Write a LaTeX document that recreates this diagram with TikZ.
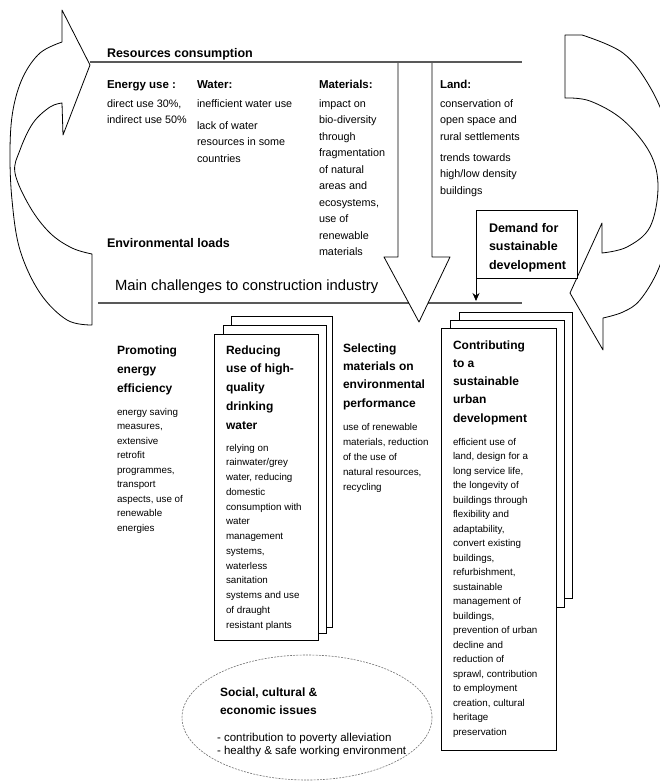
\documentclass[tikz,border=0pt]{standalone}
\usepackage{fontspec}
\setmainfont{Liberation Sans}
\usetikzlibrary{shapes.geometric,arrows.meta}
\begin{document}
\begin{tikzpicture}[x=1pt,y=-1pt,
  txt/.style={anchor=north west, inner sep=0pt, outer sep=0pt, align=left},
  topbody/.style={txt, font=\fontsize{10.8}{16.5}\selectfont},
  tophead/.style={txt, font=\fontsize{11.5}{15}\selectfont\bfseries},
  bighead/.style={txt, font=\fontsize{12.5}{16}\selectfont\bfseries},
  bhead/.style={txt, font=\fontsize{12}{#1}\selectfont\bfseries},
  bbody/.style={txt, font=\fontsize{9.8}{#1}\selectfont},
  page/.style={draw, fill=white, line width=0.9pt, anchor=north west, inner sep=0pt, outer sep=0pt, rectangle},
  sepline/.style={line width=1.3pt, black!65},
  outline/.style={draw=black, line width=0.8pt, line join=round, fill=white}
]
\useasboundingbox (0,0) rectangle (660,782);
\fill[white] (0,0) rectangle (660,782);

% lower separator line (under the big arrow head)
\draw[sepline] (98,303) -- (522,303);

% big downward arrow
\fill[white] (398,62) -- (398,257) -- (384,257) -- (419,322) -- (450,257) -- (432,257) -- (432,62) -- cycle;
\draw[line width=0.8pt, line join=round] (398,62) -- (398,257) -- (384,257) -- (419,322) -- (450,257) -- (432,257) -- (432,62);

% upper separator line
\draw[sepline] (90,62) -- (522,62);

% left curved arrow
\draw[outline] (62,10) -- (90,65) -- (63,135) -- (62,103)
  -- plot[smooth, tension=0.6] coordinates {(62,103) (50,107) (33,123) (20,150) (15,173) (30,207) (50,233) (72,248) (92,254)}
  -- (92,325)
  -- plot[smooth, tension=0.6] coordinates {(92,325) (67,320) (40,293) (20,250) (12,200) (10,150) (13,110) (23,77) (40,53) (62,42)}
  -- cycle;

% right curved arrow
\draw[outline] (565,35) -- (582,35)
  -- plot[smooth, tension=0.6] coordinates {(582,35) (623,53) (650,87) (668,130) (675,180) (670,230) (658,270) (640,300) (623,312) (603,318)}
  -- (603,350) -- (570,293) -- (602,223) -- (602,253)
  -- plot[smooth, tension=0.6] coordinates {(602,253) (627,247) (650,227) (658,187) (650,153) (623,120) (590,101) (565,98)}
  -- cycle;

% top section texts
\node[bighead] (rescons) at (107,45.8) {\strut Resources consumption};
\node[tophead] (henergy) at (107,77.5) {\strut Energy use :};
\node[tophead] (hwater) at (197,77.5) {\strut Water:};
\node[tophead] (hmat) at (319,77.5) {\strut Materials:};
\node[tophead] (hland) at (440,77.5) {\strut Land:};

\node[topbody] (tenergy) at (107,95.45) {\strut direct use 30\%,\\indirect use 50\%};
\node[topbody] (twater1) at (197,95.45) {\strut inefficient water use};
\node[topbody] (twater2) at (197,117.45) {\strut lack of water\\resources in some\\countries};
\node[topbody] (tmat) at (319,95.45) {\strut impact on\\bio-diversity\\through\\fragmentation\\of natural\\areas and\\ecosystems,\\use of\\renewable\\materials};
\node[topbody] (tland1) at (440,95.45) {\strut conservation of\\open space and\\rural settlements};
\node[topbody] (tland2) at (440,149.45) {\strut trends towards\\high/low density\\buildings};

\node[bighead] (envl) at (107,235.8) {\strut Environmental loads};
\node[txt, font=\fontsize{14.8}{19}\selectfont] (mainch) at (115,276.7) {\strut Main challenges to construction industry};

% demand box
\node[draw, line width=0.8pt, fill=white, anchor=north west, inner sep=0pt, outer sep=0pt, minimum width=101pt, minimum height=68pt] (demand) at (476,210) {};
\node[txt, font=\fontsize{12.5}{18.5}\selectfont\bfseries] (demandtxt) at (489,219.05) {\strut Demand for\\sustainable\\development};
\coordinate (dtip) at (476,301);
\draw[line width=0.8pt, -{Stealth[length=8pt,width=7pt]}] (demand.south west) -- (dtip);

% promoting
\node[bhead=19] (promh) at (117,340.7) {\strut Promoting\\energy\\efficiency};
\node[bbody=14.5] (promb) at (117,404.85) {\strut energy saving\\measures,\\extensive\\retrofit\\programmes,\\transport\\aspects, use of\\renewable\\energies};

% reducing stack
\node[page, minimum width=101pt, minimum height=311pt] (red3) at (231,316) {};
\node[page, minimum width=103pt, minimum height=308pt] (red2) at (223,325) {};
\node[page, minimum width=104pt, minimum height=306pt] (red1) at (214,334) {};
\node[bhead=18.8] (redh) at (226,340.84) {\strut Reducing\\use of high-\\quality\\drinking\\water};
\node[bbody=14.75] (redb) at (226,440.675) {\strut relying on\\rainwater/grey\\water, reducing\\domestic\\consumption with\\water\\management\\systems,\\waterless\\sanitation\\systems and use\\of draught\\resistant plants};

% selecting
\node[bhead=18.4] (selh) at (343,339.12) {\strut Selecting\\materials on\\environmental\\performance};
\node[bbody=15] (selb) at (343,419.5) {\strut use of renewable\\materials, reduction\\of the use of\\natural resources,\\recycling};

% contributing stack
\node[page, minimum width=113pt, minimum height=286pt] (con3) at (459,312) {};
\node[page, minimum width=114pt, minimum height=287pt] (con2) at (450,320) {};
\node[page, minimum width=115pt, minimum height=422pt] (con1) at (441,328) {};
\node[bhead=18.3] (conh) at (453,336.19) {\strut Contributing\\to a\\sustainable\\urban\\development};
\node[bbody=14.5] (conb) at (453,434.85) {\strut efficient use of\\land, design for a\\long service life,\\the longevity of\\buildings through\\flexibility and\\adaptability,\\convert existing\\buildings,\\refurbishment,\\sustainable\\management of\\buildings,\\prevention of urban\\decline and\\reduction of\\sprawl, contribution\\to employment\\creation, cultural\\heritage\\preservation};

% social ellipse
\node[ellipse, draw=black!55, dash pattern=on 2pt off 1.2pt, line width=0.6pt, minimum width=250pt, minimum height=125pt, inner sep=0pt] (soc) at (307,717.5) {};
\node[txt, font=\fontsize{12}{18}\selectfont\bfseries] (soch) at (220,683.4) {\strut Social, cultural \&\\economic issues};
\node[txt, font=\fontsize{11.5}{13}\selectfont] (socb) at (217,731.9) {\strut - contribution to poverty alleviation\\- healthy \& safe working environment};
\end{tikzpicture}
\end{document}
